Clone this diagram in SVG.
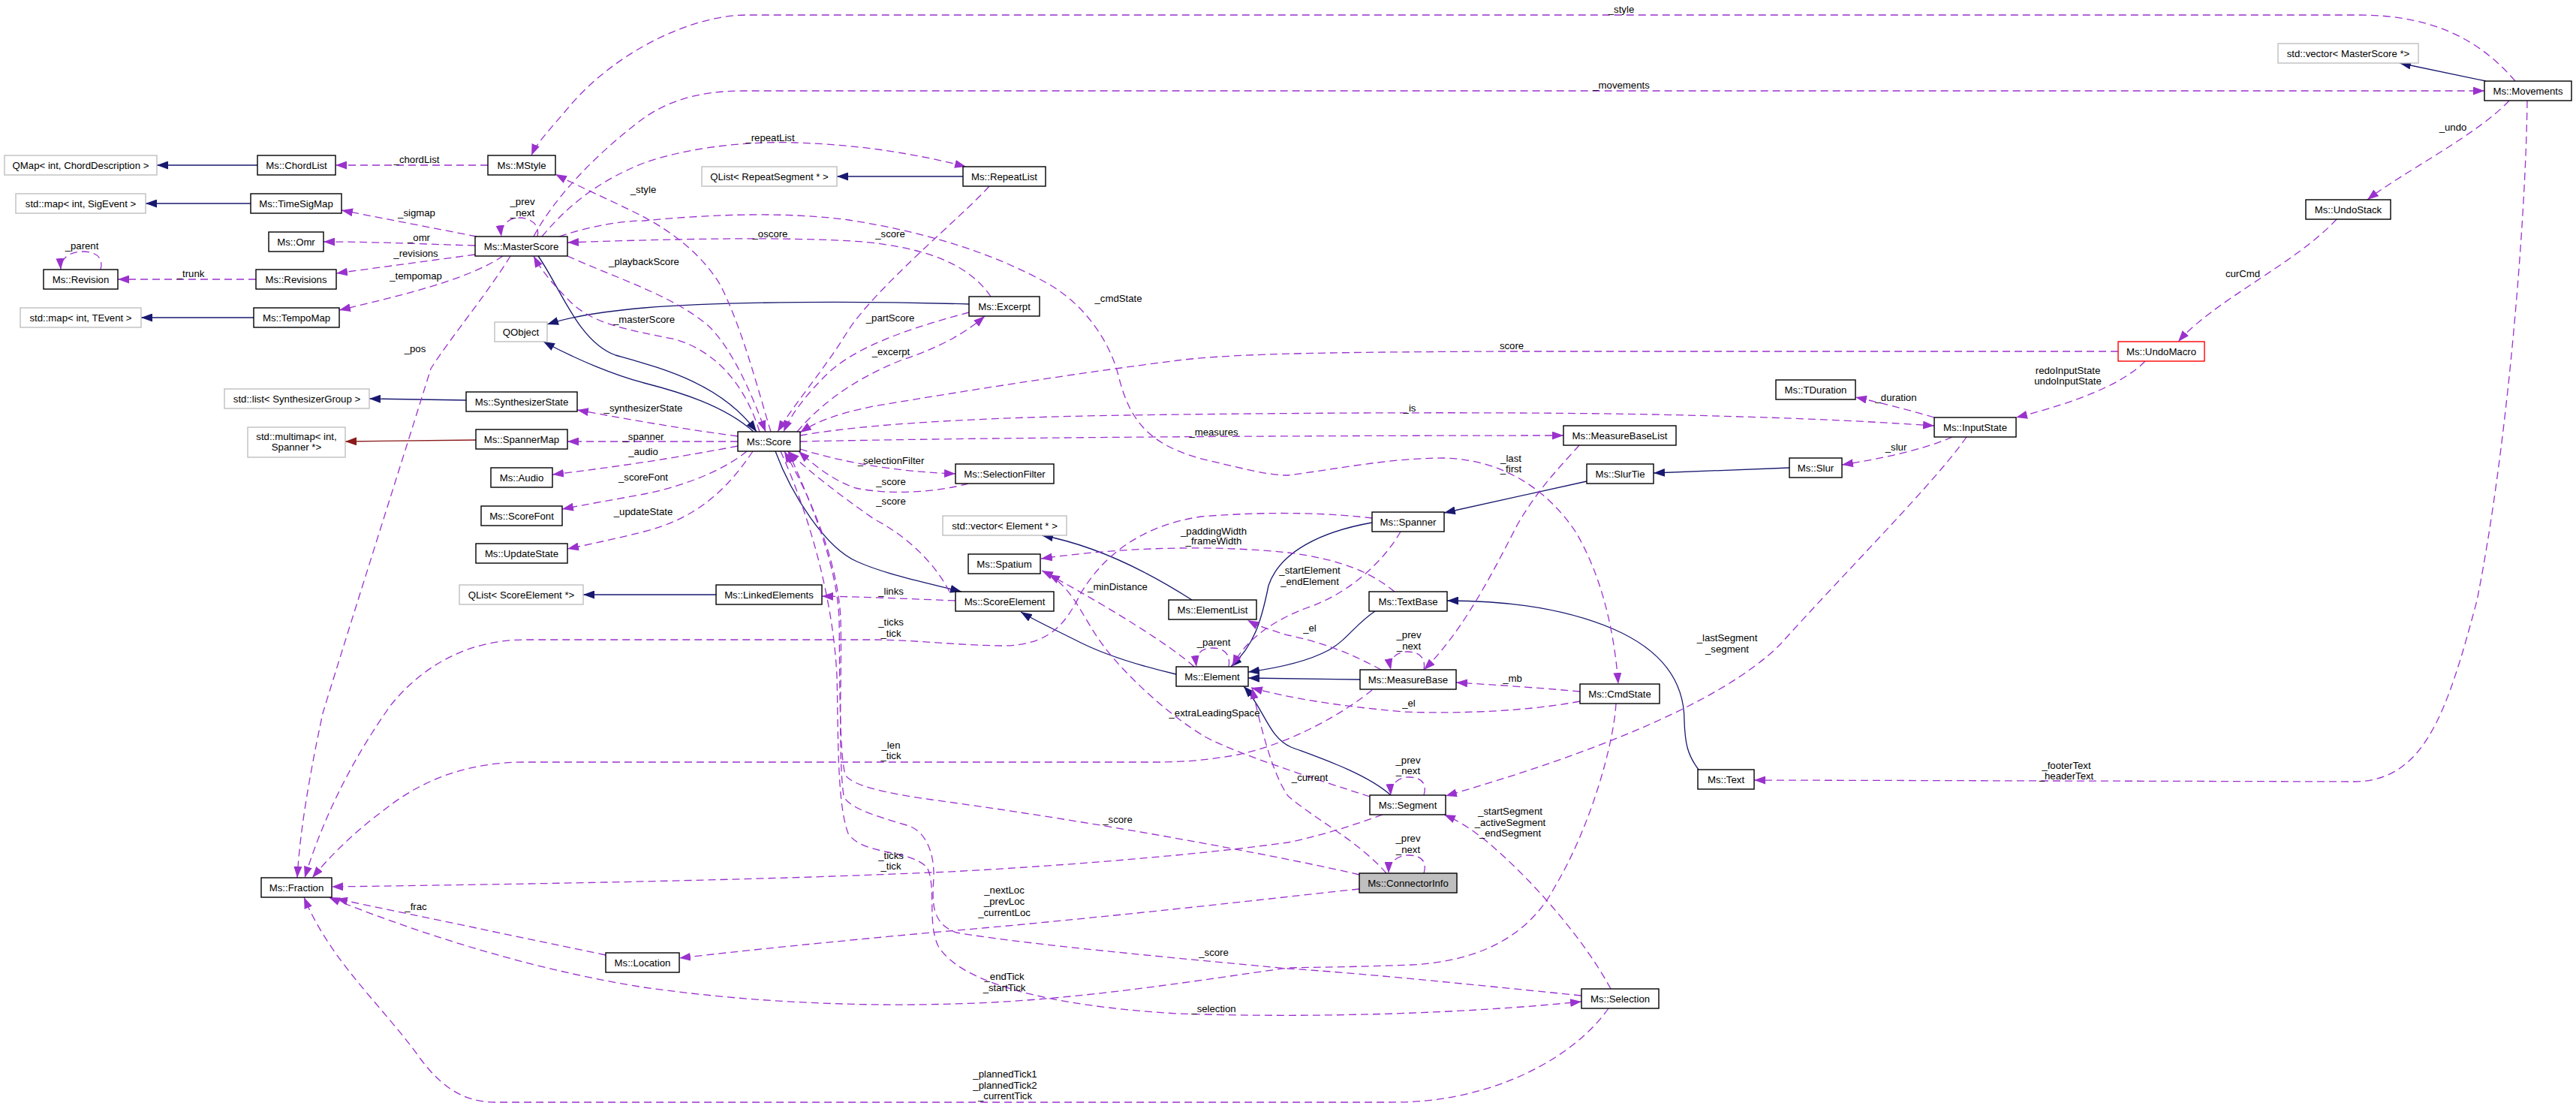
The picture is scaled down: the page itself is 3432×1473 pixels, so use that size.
<svg xmlns="http://www.w3.org/2000/svg" width="3432" height="1473" viewBox="0 0 3432 1473">
<style>
text{font-family:"Liberation Sans",Arial,Helvetica,sans-serif;font-size:13.2px;fill:#000;text-anchor:middle}
.b{fill:#fff;stroke:#000;stroke-width:1.4}
.g{fill:#fff;stroke:#bfbfbf;stroke-width:1.4}
.r{fill:#fff;stroke:#ff0000;stroke-width:1.4}
.c{fill:#bfbfbf;stroke:#000;stroke-width:1.4}
.d{fill:none;stroke:#9a32cd;stroke-width:1.3;stroke-dasharray:10,6;marker-end:url(#ap)}
.s{fill:none;stroke:#191970;stroke-width:1.3;marker-end:url(#an)}
.x{fill:none;stroke:#8b1a1a;stroke-width:1.3;marker-end:url(#ar)}
</style>
<defs>
<marker id="ap" viewBox="0 0 15 11" refX="15" refY="5.5" markerWidth="15" markerHeight="11" markerUnits="userSpaceOnUse" orient="auto"><path d="M0,0 L15,5.5 L0,11 z" fill="#9a32cd" stroke="none"/></marker>
<marker id="an" viewBox="0 0 15 11" refX="15" refY="5.5" markerWidth="15" markerHeight="11" markerUnits="userSpaceOnUse" orient="auto"><path d="M0,0 L15,5.5 L0,11 z" fill="#191970" stroke="none"/></marker>
<marker id="ar" viewBox="0 0 15 11" refX="15" refY="5.5" markerWidth="15" markerHeight="11" markerUnits="userSpaceOnUse" orient="auto"><path d="M0,0 L15,5.5 L0,11 z" fill="#8b1a1a" stroke="none"/></marker>
</defs>
<rect x="0" y="0" width="3432" height="1473" fill="#fff"/>
<g id="connectors">
<path class="s" d="M343,220 L209,220"/>
<path class="s" d="M334,271 L194,271"/>
<path class="s" d="M338,423 L188,423"/>
<path class="s" d="M1283,235 L1115,235"/>
<path class="s" d="M621,533 L492,531"/>
<path class="x" d="M634,586 L460,588"/>
<path class="s" d="M954,792 L777,792"/>
<path class="s" d="M1291,405 C1150,401 970,401 858,410 C800,415 760,422 729,432"/>
<path class="s" d="M1004,575 C965,540 905,522 858,510 C820,500 770,480 724,455"/>
<path class="s" d="M717,341 C745,380 770,455 820,473 C880,490 960,510 1008,575"/>
<path class="s" d="M1033,601 C1055,660 1100,730 1142,748 C1180,765 1230,775 1281,788"/>
<path class="s" d="M1567,898 C1520,887 1470,872 1432,852 C1400,836 1378,826 1360,815"/>
<path class="s" d="M1588,799 Q1480,730 1388,713"/>
<path class="s" d="M1828,696 C1760,708 1705,735 1690,780 C1680,830 1670,860 1640,888"/>
<path class="s" d="M1832,814 C1805,832 1795,852 1770,866 C1740,882 1700,890 1663,895"/>
<path class="s" d="M1812,905 L1663,903"/>
<path class="s" d="M1853,1059 C1820,1030 1760,1010 1720,995 C1690,982 1685,945 1657,914"/>
<path class="s" d="M2114,641 L1924,683"/>
<path class="s" d="M2384,623 L2203,630"/>
<path class="s" d="M3312,108 L3197,84"/>
<path class="s" d="M2263,1025 C2248,1005 2245,990 2244,960 C2244,900 2205,862 2150,838 C2080,808 2000,800 1928,800"/>

<path class="d" d="M650,220 L447,220"/>
<path class="d" d="M635,315 L455,280"/>
<path class="d" d="M633,327 C560,325 500,322 431,322"/>
<path class="d" d="M633,339 L448,364"/>
<path class="d" d="M341,372 L157,372"/>
<path class="d" d="M134,359 C138,345 130,335 110,335 C92,335 80,345 81,359"/>
<path class="d" d="M670,341 C630,368 560,388 452,413"/>
<path class="d" d="M716,315 C720,298 705,290 692,290 C678,290 666,300 668,315"/>
<path class="d" d="M1012,575 C995,520 960,470 900,452 C840,440 790,432 760,402 C740,382 722,362 711,341"/>
<path class="d" d="M756,341 C820,370 900,395 945,435 C975,465 1000,520 1020,575"/>
<path class="d" d="M1027,575 C1010,520 990,440 960,380 C930,330 880,300 850,285 C810,265 770,248 740,232"/>
<path class="d" d="M3351,108 C3310,60 3250,20 3143,20 L995,20 C920,20 820,70 760,140 C735,170 715,190 708,207"/>
<path class="d" d="M711,315 C740,260 800,200 858,157 C890,135 930,121 990,121 L3310,121"/>
<path class="d" d="M722,315 C760,270 800,240 858,217 C920,195 1000,188 1060,190 C1150,193 1220,205 1287,222"/>
<path class="d" d="M1320,395 C1290,350 1230,330 1150,322 C1050,315 900,318 756,323"/>
<path class="d" d="M745,315 C790,300 830,294 858,294 C950,285 1050,282 1131,293 C1240,310 1330,340 1400,380 C1450,410 1480,460 1490,500 C1505,560 1530,595 1613,614 C1660,625 1690,633 1716,633 C1780,625 1850,610 1924,610 C2000,612 2060,650 2099,708 C2130,760 2150,830 2156,911"/>
<path class="d" d="M1291,416 C1220,435 1140,460 1100,500 C1075,525 1055,550 1044,575"/>
<path class="d" d="M1062,575 C1100,530 1150,500 1200,480 C1260,460 1290,440 1312,421"/>
<path class="d" d="M1318,248 C1280,290 1170,380 1130,440 C1100,490 1060,535 1036,575"/>
<path class="d" d="M2822,468 L2000,468 C1800,469 1650,470 1569,480 C1450,495 1300,518 1164,541 C1120,550 1090,560 1066,576"/>
<path class="d" d="M1066,598 C1120,615 1190,628 1273,631"/>
<path class="d" d="M1290,644 C1250,655 1190,660 1140,650 C1110,640 1085,620 1064,601"/>
<path class="d" d="M1265,788 C1245,750 1210,715 1164,691 C1120,660 1080,630 1050,601"/>
<path class="d" d="M1066,580 C1150,565 1300,556 1500,553 C1700,550 2000,548 2200,552 C2400,556 2500,562 2577,567"/>
<path class="d" d="M1066,588 C1300,583 1700,580 2083,580"/>
<path class="d" d="M983,581 C900,570 830,557 769,546"/>
<path class="d" d="M983,588 L756,588"/>
<path class="d" d="M983,594 C900,610 820,622 736,632"/>
<path class="d" d="M995,601 C960,630 900,650 858,658 C820,665 780,672 749,678"/>
<path class="d" d="M1003,601 C970,650 930,690 858,708 C810,720 780,726 756,731"/>
<path class="d" d="M1273,800 C1200,797 1150,795 1095,794"/>
<path class="d" d="M680,341 C650,390 600,450 574,491 C540,600 470,820 430,950 C415,1020 400,1100 396,1169"/>
<path class="d" d="M1828,690 C1780,684 1700,680 1600,688 C1520,700 1470,740 1440,790 C1420,830 1400,858 1340,860 C1280,860 1220,852 1160,852 L700,852 C620,852 560,890 520,940 C470,1010 430,1090 406,1169"/>
<path class="d" d="M1828,919 C1790,950 1720,990 1650,1005 C1610,1012 1580,1015 1540,1015 L700,1015 C620,1015 560,1040 510,1080 C470,1110 440,1140 416,1169"/>
<path class="d" d="M1842,1085 C1800,1100 1760,1113 1716,1122 C1550,1145 1300,1160 1241,1162 C1100,1168 900,1175 442,1181"/>
<path class="d" d="M807,1272 L448,1197"/>
<path class="d" d="M2153,937 C2150,990 2120,1100 2071,1182 C2040,1240 1980,1280 1880,1285 C1800,1288 1760,1288 1716,1289 C1600,1305 1450,1330 1300,1336 C1150,1342 1000,1335 858,1315 C700,1290 550,1240 438,1195"/>
<path class="d" d="M2143,1343 C2110,1390 2040,1440 1940,1460 C1900,1468 1870,1468 1850,1468 L660,1468 C620,1468 590,1450 560,1410 C510,1340 440,1280 405,1195"/>
<path class="d" d="M1811,1184 C1750,1190 1500,1220 1241,1242 C1100,1255 1000,1265 905,1276"/>
<path class="d" d="M1811,1165 C1750,1150 1500,1100 1241,1065 C1170,1055 1135,1045 1126,1032 C1118,1000 1119,900 1118,824 C1115,760 1090,690 1050,601"/>
<path class="d" d="M2107,1326 C1950,1310 1800,1295 1716,1290 C1500,1270 1350,1255 1274,1242 C1240,1230 1242,1200 1244,1169 C1245,1130 1230,1105 1208,1099 C1160,1085 1130,1075 1124,1060 C1116,1000 1122,900 1120,824 C1117,760 1090,680 1045,601"/>
<path class="d" d="M1040,601 C1080,690 1110,800 1115,900 C1117,980 1115,1070 1130,1110 C1150,1140 1210,1130 1235,1155 C1248,1180 1235,1230 1250,1260 C1280,1310 1400,1340 1569,1350 C1750,1356 1950,1350 2107,1334"/>
<path class="d" d="M1591,888 C1560,860 1480,810 1397,765"/>
<path class="d" d="M1825,1061 C1760,1040 1650,1005 1607,982 C1560,955 1500,900 1470,860 C1440,820 1430,780 1388,760"/>
<path class="d" d="M1858,788 C1830,765 1790,745 1716,736 C1620,726 1500,728 1387,744"/>
<path class="d" d="M1840,892 C1800,870 1760,855 1716,846 C1695,840 1675,833 1662,826"/>
<path class="d" d="M1866,708 C1845,745 1800,790 1740,810 C1700,825 1660,850 1642,887"/>
<path class="d" d="M1637,888 C1640,870 1630,863 1615,863 C1600,863 1592,872 1594,888"/>
<path class="d" d="M2104,593 C2080,620 2050,650 2022,698 C1990,760 1950,840 1897,892"/>
<path class="d" d="M1897,892 C1900,875 1890,868 1875,868 C1860,868 1850,878 1853,892"/>
<path class="d" d="M2105,921 C2050,916 1990,912 1940,909"/>
<path class="d" d="M2105,934 C2020,950 1920,950 1870,948 C1780,940 1720,930 1667,916"/>
<path class="d" d="M2601,582 C2560,600 2500,612 2454,619"/>
<path class="d" d="M2577,556 C2540,545 2500,535 2472,529"/>
<path class="d" d="M2858,481 C2830,510 2770,535 2686,556"/>
<path class="d" d="M3113,292 C3060,350 2950,400 2902,455"/>
<path class="d" d="M3343,134 C3300,180 3200,230 3154,266"/>
<path class="d" d="M3367,134 C3365,300 3340,600 3300,800 C3260,950 3230,1040 3137,1041 L2337,1039"/>
<path class="d" d="M2620,582 C2580,640 2460,760 2372,858 C2290,940 2100,1010 1926,1060"/>
<path class="d" d="M1897,1059 C1902,1042 1892,1035 1877,1035 C1862,1035 1852,1045 1853,1059"/>
<path class="d" d="M1897,1163 C1902,1146 1892,1139 1877,1139 C1862,1139 1850,1148 1850,1163"/>
<path class="d" d="M2146,1317 C2110,1250 2040,1170 1980,1120 C1955,1100 1940,1092 1924,1085"/>
<path class="d" d="M1847,1163 C1810,1120 1750,1090 1716,1060 C1695,1030 1680,970 1668,916"/>

<text x="555" y="217">_chordList</text>
<text x="555" y="288">_sigmap</text>
<text x="558" y="321">_omr</text>
<text x="554" y="342">_revisions</text>
<text x="254" y="369">_trunk</text>
<text x="109" y="332">_parent</text>
<text x="554" y="372">_tempomap</text>
<text x="696" y="273">_prev</text>
<text x="696" y="288">_next</text>
<text x="553" y="469">_pos</text>
<text x="1026" y="188">_repeatList</text>
<text x="1026" y="316">_oscore</text>
<text x="1186" y="316">_score</text>
<text x="1490" y="402">_cmdState</text>
<text x="1186" y="428">_partScore</text>
<text x="1187" y="473">_excerpt</text>
<text x="2160" y="17">_style</text>
<text x="2160" y="118">_movements</text>
<text x="2014" y="465">score</text>
<text x="3268" y="174">_undo</text>
<text x="2988" y="369">curCmd</text>
<text x="2755" y="498">redoInputState</text>
<text x="2755" y="512">undoInputState</text>
<text x="857" y="548">_synthesizerState</text>
<text x="857" y="586">_spanner</text>
<text x="857" y="606">_audio</text>
<text x="857" y="640">_scoreFont</text>
<text x="857" y="686">_updateState</text>
<text x="858" y="430">_masterScore</text>
<text x="858" y="353">_playbackScore</text>
<text x="857" y="257">_style</text>
<text x="1187" y="618">_selectionFilter</text>
<text x="1187" y="646">_score</text>
<text x="1187" y="672">_score</text>
<text x="1187" y="792">_links</text>
<text x="1187" y="833">_ticks</text>
<text x="1187" y="848">_tick</text>
<text x="1617" y="712">_paddingWidth</text>
<text x="1617" y="725">_frameWidth</text>
<text x="1489" y="786">_minDistance</text>
<text x="1617" y="860">_parent</text>
<text x="1618" y="954">_extraLeadingSpace</text>
<text x="1617" y="580">_measures</text>
<text x="1878" y="548">_is</text>
<text x="2526" y="534">_duration</text>
<text x="2526" y="600">_slur</text>
<text x="2013" y="615">_last</text>
<text x="2013" y="629">_first</text>
<text x="1745" y="764">_startElement</text>
<text x="1745" y="779">_endElement</text>
<text x="1745" y="841">_el</text>
<text x="1877" y="850">_prev</text>
<text x="1877" y="865">_next</text>
<text x="2015" y="908">_mb</text>
<text x="1877" y="941">_el</text>
<text x="2301" y="854">_lastSegment</text>
<text x="2301" y="869">_segment</text>
<text x="1187" y="997">_len</text>
<text x="1187" y="1011">_tick</text>
<text x="1489" y="1096">_score</text>
<text x="1187" y="1144">_ticks</text>
<text x="1187" y="1158">_tick</text>
<text x="1338" y="1190">_nextLoc</text>
<text x="1338" y="1205">_prevLoc</text>
<text x="1338" y="1220">_currentLoc</text>
<text x="1617" y="1273">_score</text>
<text x="1338" y="1305">_endTick</text>
<text x="1338" y="1320">_startTick</text>
<text x="1617" y="1348">_selection</text>
<text x="1339" y="1435">_plannedTick1</text>
<text x="1339" y="1450">_plannedTick2</text>
<text x="1339" y="1464">_currentTick</text>
<text x="554" y="1212">_frac</text>
<text x="1745" y="1040">_current</text>
<text x="1876" y="1017">_prev</text>
<text x="1876" y="1031">_next</text>
<text x="1876" y="1121">_prev</text>
<text x="1876" y="1136">_next</text>
<text x="2012" y="1085">_startSegment</text>
<text x="2012" y="1100">_activeSegment</text>
<text x="2012" y="1114">_endSegment</text>
<text x="2753" y="1024">_footerText</text>
<text x="2753" y="1038">_headerText</text>
</g>

<g id="n_qmap"><rect class="g" x="6" y="207" width="203" height="26"/><text x="107.5" y="225">QMap&lt; int, ChordDescription &gt;</text></g>
<g id="n_chordlist"><rect class="b" x="343" y="207" width="104" height="26"/><text x="395" y="225">Ms::ChordList</text></g>
<g id="n_mstyle"><rect class="b" x="650" y="207" width="90" height="26"/><text x="695" y="225">Ms::MStyle</text></g>
<g id="n_sigmap"><rect class="g" x="21" y="258" width="173" height="26"/><text x="107.5" y="276">std::map&lt; int, SigEvent &gt;</text></g>
<g id="n_timesigmap"><rect class="b" x="334" y="258" width="121" height="26"/><text x="394.5" y="276">Ms::TimeSigMap</text></g>
<g id="n_omr"><rect class="b" x="358" y="309" width="73" height="26"/><text x="394.5" y="327">Ms::Omr</text></g>
<g id="n_masterscore"><rect class="b" x="633" y="315" width="123" height="26"/><text x="694.5" y="333">Ms::MasterScore</text></g>
<g id="n_revision"><rect class="b" x="58" y="359" width="99" height="26"/><text x="107.5" y="377">Ms::Revision</text></g>
<g id="n_revisions"><rect class="b" x="341" y="359" width="107" height="26"/><text x="394.5" y="377">Ms::Revisions</text></g>
<g id="n_tevent"><rect class="g" x="27" y="410" width="161" height="26"/><text x="107.5" y="428">std::map&lt; int, TEvent &gt;</text></g>
<g id="n_tempomap"><rect class="b" x="338" y="410" width="114" height="26"/><text x="395" y="428">Ms::TempoMap</text></g>
<g id="n_qobject"><rect class="g" x="659" y="429" width="70" height="26"/><text x="694" y="447">QObject</text></g>
<g id="n_qlistrs"><rect class="g" x="935" y="222" width="180" height="26"/><text x="1025" y="240">QList&lt; RepeatSegment * &gt;</text></g>
<g id="n_repeatlist"><rect class="b" x="1283" y="222" width="110" height="26"/><text x="1338" y="240">Ms::RepeatList</text></g>
<g id="n_excerpt"><rect class="b" x="1291" y="395" width="94" height="26"/><text x="1338" y="413">Ms::Excerpt</text></g>
<g id="n_vecms"><rect class="g" x="3035" y="58" width="187" height="26"/><text x="3128.5" y="76">std::vector&lt; MasterScore *&gt;</text></g>
<g id="n_movements"><rect class="b" x="3310" y="108" width="116" height="26"/><text x="3368" y="126">Ms::Movements</text></g>
<g id="n_undostack"><rect class="b" x="3072" y="266" width="113" height="26"/><text x="3128.5" y="284">Ms::UndoStack</text></g>
<g id="n_undomacro"><rect class="r" x="2822" y="455" width="115" height="26"/><text x="2879.5" y="473">Ms::UndoMacro</text></g>
<g id="n_synthgroup"><rect class="g" x="299" y="518" width="193" height="26"/><text x="395.5" y="536">std::list&lt; SynthesizerGroup &gt;</text></g>
<g id="n_synthstate"><rect class="b" x="621" y="522" width="148" height="26"/><text x="695" y="540">Ms::SynthesizerState</text></g>
<g id="n_multimap"><rect class="g" x="330" y="569" width="130" height="40"/><text x="395" y="586">std::multimap&lt; int,</text><text x="395" y="600">Spanner *&gt;</text></g>
<g id="n_spannermap"><rect class="b" x="634" y="572" width="122" height="26"/><text x="695" y="590">Ms::SpannerMap</text></g>
<g id="n_audio"><rect class="b" x="654" y="623" width="82" height="26"/><text x="695" y="641">Ms::Audio</text></g>
<g id="n_scorefont"><rect class="b" x="641" y="674" width="108" height="26"/><text x="695" y="692">Ms::ScoreFont</text></g>
<g id="n_updatestate"><rect class="b" x="634" y="724" width="122" height="26"/><text x="695" y="742">Ms::UpdateState</text></g>
<g id="n_qlistse"><rect class="g" x="612" y="779" width="165" height="26"/><text x="694.5" y="797">QList&lt; ScoreElement *&gt;</text></g>
<g id="n_score"><rect class="b" x="983" y="575" width="83" height="26"/><text x="1024.5" y="593">Ms::Score</text></g>
<g id="n_selfilter"><rect class="b" x="1273" y="618" width="131" height="26"/><text x="1338.5" y="636">Ms::SelectionFilter</text></g>
<g id="n_vecel"><rect class="g" x="1256" y="687" width="165" height="26"/><text x="1338.5" y="705">std::vector&lt; Element * &gt;</text></g>
<g id="n_spatium"><rect class="b" x="1290" y="738" width="96" height="26"/><text x="1338" y="756">Ms::Spatium</text></g>
<g id="n_linked"><rect class="b" x="954" y="779" width="141" height="26"/><text x="1024.5" y="797">Ms::LinkedElements</text></g>
<g id="n_scoreel"><rect class="b" x="1273" y="788" width="131" height="26"/><text x="1338.5" y="806">Ms::ScoreElement</text></g>
<g id="n_elementlist"><rect class="b" x="1557" y="799" width="117" height="26"/><text x="1615.5" y="817">Ms::ElementList</text></g>
<g id="n_element"><rect class="b" x="1567" y="888" width="96" height="26"/><text x="1615" y="906">Ms::Element</text></g>
<g id="n_tduration"><rect class="b" x="2366" y="506" width="106" height="26"/><text x="2419" y="524">Ms::TDuration</text></g>
<g id="n_mblist"><rect class="b" x="2083" y="567" width="150" height="26"/><text x="2158" y="585">Ms::MeasureBaseList</text></g>
<g id="n_slurtie"><rect class="b" x="2114" y="618" width="89" height="26"/><text x="2158.5" y="636">Ms::SlurTie</text></g>
<g id="n_slur"><rect class="b" x="2384" y="610" width="70" height="26"/><text x="2419" y="628">Ms::Slur</text></g>
<g id="n_spanner"><rect class="b" x="1828" y="682" width="96" height="26"/><text x="1876" y="700">Ms::Spanner</text></g>
<g id="n_textbase"><rect class="b" x="1824" y="788" width="104" height="26"/><text x="1876" y="806">Ms::TextBase</text></g>
<g id="n_measurebase"><rect class="b" x="1812" y="892" width="128" height="26"/><text x="1876" y="910">Ms::MeasureBase</text></g>
<g id="n_cmdstate"><rect class="b" x="2105" y="911" width="106" height="26"/><text x="2158" y="929">Ms::CmdState</text></g>
<g id="n_inputstate"><rect class="b" x="2577" y="556" width="109" height="26"/><text x="2631.5" y="574">Ms::InputState</text></g>
<g id="n_fraction"><rect class="b" x="348" y="1169" width="94" height="26"/><text x="395" y="1187">Ms::Fraction</text></g>
<g id="n_location"><rect class="b" x="807" y="1269" width="98" height="26"/><text x="856" y="1287">Ms::Location</text></g>
<g id="n_segment"><rect class="b" x="1825" y="1059" width="101" height="26"/><text x="1875.5" y="1077">Ms::Segment</text></g>
<g id="n_connectorinfo"><rect class="c" x="1811" y="1163" width="130" height="26"/><text x="1876" y="1181">Ms::ConnectorInfo</text></g>
<g id="n_text"><rect class="b" x="2262" y="1025" width="75" height="26"/><text x="2299.5" y="1043">Ms::Text</text></g>
<g id="n_selection"><rect class="b" x="2107" y="1317" width="103" height="26"/><text x="2158.5" y="1335">Ms::Selection</text></g>
</svg>
